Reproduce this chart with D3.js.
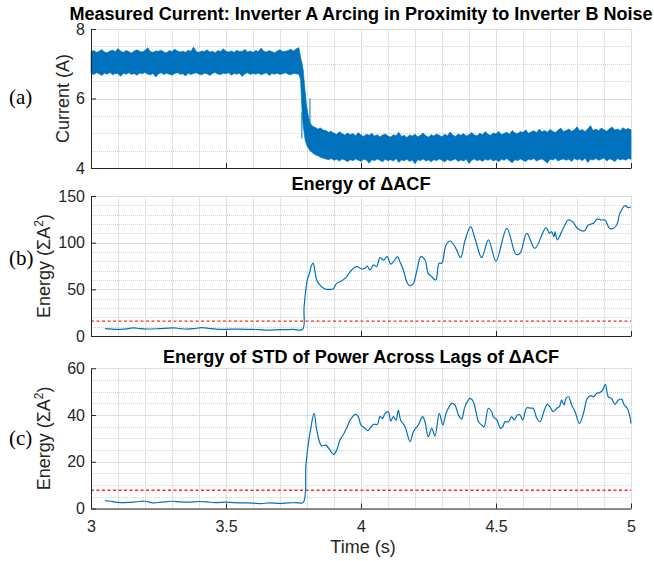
<!DOCTYPE html>
<html>
<head>
<meta charset="utf-8">
<script src="https://cdn.jsdelivr.net/npm/d3@7"></script>
<style>
  body { margin: 0; background: #fff; }
  svg { display: block; font-family: "Liberation Sans", Arial, sans-serif; }
</style>
</head>
<body>
<svg id="fig" width="654" height="561"></svg>
<script>
// ---- Shared time axis ----
const xTicks = [3, 3.5, 4, 4.5, 5];
const xTickLabels = ["3", "3.5", "4", "4.5", "5"];

// ---- (a) Measured current: upper / lower extent of the raw signal ----
const currentTime = [
  3.00,3.01,3.02,3.03,3.04,3.05,3.06,3.07,3.08,3.09,
  3.10,3.11,3.12,3.13,3.14,3.15,3.16,3.17,3.18,3.19,
  3.20,3.21,3.22,3.23,3.24,3.25,3.26,3.27,3.28,3.29,
  3.30,3.31,3.32,3.33,3.34,3.35,3.36,3.37,3.38,3.39,
  3.40,3.41,3.42,3.43,3.44,3.45,3.46,3.47,3.48,3.49,
  3.50,3.51,3.52,3.53,3.54,3.55,3.56,3.57,3.58,3.59,
  3.60,3.61,3.62,3.63,3.64,3.65,3.66,3.67,3.68,3.69,
  3.70,3.71,3.72,3.73,3.74,3.75,3.76,3.77,
  3.776,3.782,3.786,3.793,3.799,3.805,3.811,3.817,3.823,3.83,3.84,3.85,3.86,
  3.87,3.88,3.89,3.90,3.91,3.92,3.93,3.94,3.95,3.96,
  3.97,3.98,3.99,4.00,4.01,4.02,4.03,4.04,4.05,4.06,
  4.07,4.08,4.09,4.10,4.11,4.12,4.13,4.14,4.15,4.16,
  4.17,4.18,4.19,4.20,4.21,4.22,4.23,4.24,4.25,4.26,
  4.27,4.28,4.29,4.30,4.31,4.32,4.33,4.34,4.35,4.36,
  4.37,4.38,4.39,4.40,4.41,4.42,4.43,4.44,4.45,4.46,
  4.47,4.48,4.49,4.50,4.51,4.52,4.53,4.54,4.55,4.56,
  4.57,4.58,4.59,4.60,4.61,4.62,4.63,4.64,4.65,4.66,
  4.67,4.68,4.69,4.70,4.71,4.72,4.73,4.74,4.75,4.76,
  4.77,4.78,4.79,4.80,4.81,4.82,4.83,4.84,4.85,4.86,
  4.87,4.88,4.89,4.90,4.91,4.92,4.93,4.94,4.95,4.96,
  4.97,4.98,4.99,5.00
];
const currentHigh = [
  7.35,7.38,7.33,7.36,7.41,7.34,7.32,7.37,7.39,7.35,
  7.44,7.36,7.33,7.38,7.35,7.31,7.37,7.40,7.36,7.34,
  7.38,7.46,7.35,7.33,7.37,7.36,7.39,7.34,7.32,7.38,
  7.35,7.42,7.37,7.34,7.36,7.33,7.39,7.36,7.48,7.35,
  7.33,7.37,7.35,7.40,7.34,7.36,7.32,7.38,7.35,7.43,
  7.36,7.34,7.37,7.33,7.39,7.35,7.36,7.41,7.34,7.37,
  7.33,7.38,7.35,7.45,7.36,7.34,7.38,7.35,7.32,7.37,
  7.40,7.35,7.36,7.38,7.42,7.37,7.43,7.46,
  7.20,7.00,6.82,6.20,5.76,5.50,5.30,5.24,5.19,5.17,5.12,5.15,5.09,
  5.08,5.03,5.06,5.00,4.97,5.04,4.99,4.95,5.01,4.96,
  4.99,4.93,5.02,4.95,4.91,4.97,4.94,5.00,4.92,4.96,
  4.90,4.95,4.98,4.92,4.89,4.96,4.93,5.03,4.91,4.94,
  4.88,4.95,4.92,4.97,4.90,4.94,5.01,4.93,4.89,4.96,
  4.92,4.98,4.94,4.90,4.97,4.93,5.04,4.95,4.91,4.98,
  4.94,4.99,4.92,4.96,5.02,4.95,4.93,5.00,4.96,5.05,
  4.97,4.94,5.01,4.98,5.06,4.96,5.00,5.03,4.97,5.08,
  5.01,4.99,5.05,5.02,5.10,5.00,5.04,5.07,5.02,5.12,
  5.04,5.08,5.03,5.11,5.06,5.02,5.09,5.15,5.05,5.08,
  5.12,5.06,5.10,5.19,5.07,5.11,5.05,5.13,5.22,5.08,
  5.12,5.07,5.15,5.10,5.06,5.13,5.18,5.09,5.12,5.08,
  5.16,5.11,5.14,5.10
];
const currentLow = [
  6.72,6.69,6.74,6.71,6.66,6.73,6.70,6.75,6.68,6.72,
  6.71,6.64,6.73,6.70,6.74,6.69,6.72,6.67,6.73,6.71,
  6.75,6.70,6.68,6.72,6.62,6.71,6.74,6.69,6.73,6.70,
  6.67,6.72,6.74,6.70,6.71,6.65,6.73,6.69,6.72,6.74,
  6.70,6.68,6.73,6.71,6.66,6.72,6.75,6.70,6.69,6.73,
  6.71,6.74,6.67,6.72,6.70,6.73,6.63,6.71,6.74,6.69,
  6.72,6.70,6.73,6.68,6.71,6.74,6.66,6.72,6.70,6.73,
  6.69,6.71,6.74,6.70,6.68,6.72,6.71,6.70,
  6.55,5.57,5.20,4.81,4.65,4.57,4.50,4.46,4.42,4.38,4.35,4.31,4.28,
  4.26,4.24,4.27,4.22,4.25,4.20,4.26,4.23,4.18,4.24,
  4.21,4.26,4.22,4.19,4.25,4.23,4.14,4.24,4.21,4.26,
  4.22,4.18,4.25,4.21,4.24,4.20,4.27,4.16,4.23,4.21,
  4.25,4.19,4.23,4.12,4.24,4.21,4.26,4.20,4.23,4.18,
  4.24,4.21,4.26,4.22,4.17,4.25,4.20,4.23,4.26,4.19,
  4.23,4.20,4.25,4.13,4.22,4.26,4.21,4.24,4.19,4.25,
  4.22,4.26,4.20,4.24,4.18,4.25,4.22,4.27,4.21,4.15,
  4.24,4.21,4.26,4.22,4.19,4.25,4.23,4.27,4.20,4.24,
  4.26,4.21,4.14,4.25,4.23,4.27,4.20,4.24,4.26,4.22,
  4.25,4.19,4.27,4.23,4.26,4.21,4.28,4.16,4.25,4.23,
  4.27,4.22,4.25,4.29,4.20,4.26,4.24,4.18,4.27,4.23,
  4.26,4.22,4.27,4.25
];
// isolated transients around the arc onset
const spikeTime = [3.781, 3.811];
const spikeHigh = [5.60, 6.00];
const spikeLow  = [4.85, 5.30];
const currentTicks = [4, 6, 8];

// ---- (b) Energy of delta-ACF ----
const energyTime = [
  3.052,3.07,3.095,3.12,3.157,3.18,3.206,3.25,3.305,3.33,3.354,3.38,3.41,3.44,3.465,3.50,3.55,3.60,3.626,3.65,
  3.70,3.749,3.784,3.789,3.795,3.801,3.81,3.816,3.823,3.829,3.836,3.848,3.867,3.891,3.897,3.910,3.928,3.947,3.965,3.984,
  4.002,4.015,4.023,4.033,4.046,4.058,4.070,4.083,4.097,4.110,4.120,4.135,4.144,4.157,4.169,4.179,4.194,4.206,4.222,4.237,
  4.249,4.262,4.277,4.289,4.299,4.315,4.330,4.348,4.369,4.385,4.406,4.422,4.447,4.472,4.500,4.540,4.574,4.589,4.614,4.644,
  4.685,4.698,4.706,4.715,4.719,4.727,4.749,4.768,4.786,4.801,4.826,4.842,4.861,4.875,4.891,4.904,4.920,4.935,4.947,4.959,
  4.978,4.990,4.999
];
const energyValue = [
  8.0,7.7,7.1,7.3,8.6,8.0,7.5,7.8,8.7,8.0,7.4,7.8,8.9,8.0,7.4,7.2,7.4,7.0,6.9,6.3,
  6.8,7.0,7.2,30,48,60,68,75,78,70,60,54.6,50.4,50.0,50.4,56.4,58.9,63.6,70.7,74.3,
  71.8,72.5,75,70.7,76.1,74.3,84,81.4,85,77.1,79.6,85,79.6,70.7,58.2,53.9,56.4,68.9,85,81.4,
  67.1,63.6,60,77.9,77.9,97.5,101.8,95.7,84,102,117.1,104.7,84,102.9,80.4,115.4,87.5,88.6,110.0,93.9,
  116.1,110,111.8,106.4,111.8,102.9,115.4,124.3,121.8,115.4,112.5,118.9,120.7,125.4,124.3,124.3,115.4,115.4,118.9,131.4,
  139.6,137.5,138.6
];
const energyThreshold = 16;
const energyTicks = [0, 50, 100, 150];

// ---- (c) Energy of STD of power across lags of delta-ACF ----
const stdTime = [
  3.052,3.07,3.09,3.11,3.14,3.17,3.20,3.23,3.26,3.30,3.33,3.36,3.40,3.43,3.46,3.50,3.53,3.57,3.60,3.63,
  3.66,3.70,3.73,3.76,3.786,3.796,3.805,3.814,3.826,3.836,3.846,3.854,3.870,3.885,3.898,3.910,3.922,3.937,3.949,3.962,
  3.980,3.990,4.000,4.015,4.024,4.033,4.046,4.061,4.070,4.080,4.089,4.101,4.110,4.120,4.130,4.138,4.147,4.163,4.182,4.194,
  4.212,4.228,4.237,4.249,4.262,4.274,4.290,4.303,4.315,4.336,4.348,4.361,4.373,4.385,4.404,4.416,4.426,4.435,4.447,4.456,
  4.472,4.484,4.490,4.503,4.517,4.525,4.533,4.546,4.558,4.567,4.579,4.589,4.599,4.614,4.628,4.638,4.651,4.663,4.675,4.690,
  4.703,4.712,4.725,4.735,4.743,4.752,4.759,4.769,4.780,4.793,4.809,4.824,4.838,4.851,4.861,4.873,4.885,4.895,4.905,4.916,
  4.928,4.941,4.953,4.965,4.975,4.986,4.996,5.000
];
const stdValue = [
  3.3,3.2,2.7,2.5,2.6,2.9,3.1,2.4,2.7,3.1,2.8,2.7,3.0,2.8,2.5,2.7,2.5,2.4,2.3,2.1,
  2.4,2.2,2.4,2.5,2.6,18.6,27.9,34.3,40.7,33.6,28.6,26.8,27.1,25.0,23.1,25.0,29.3,32.1,35.0,38.3,
  40.3,39.3,35.7,34.3,33.3,34.3,36.0,36.0,39.3,38.6,40.7,41.4,37.4,39.3,37.8,42.1,37.8,35.0,28.6,32.9,
  35.7,39.3,37.1,30.7,34.3,31.1,40.7,35.7,40.7,45.0,44.3,40.0,38.3,43.6,47.1,45.7,41.4,37.1,35.7,35.0,
  42.9,41.4,39.3,37.9,34.3,35.0,37.1,37.1,39.3,37.9,40.0,40.0,37.9,43.1,42.9,42.9,38.6,37.1,40.7,44.6,
  42.9,41.4,42.9,43.6,46.4,44.3,47.1,47.8,44.3,41.4,36.4,40.7,47.1,48.3,47.8,49.3,49.7,50.7,53.1,47.8,
  47.1,44.6,46.4,46.8,44.3,42.9,39.3,36.4
];
const stdThreshold = 7.8;
const stdTicks = [0, 20, 40, 60];

// ---- Layout ----
const svg = d3.select("#fig");
const xLeft = 91, xRight = 631;
const x = d3.scaleLinear().domain([3, 5]).range([xLeft, xRight]);
const ink = "#262626";
const lineBlue = "#0072BD";

const panels = [
  { tag: "(a)", title: "Measured Current: Inverter A Arcing in Proximity to Inverter B Noise",
    titleW: 583, titleY: 19.5, top: 29, bottom: 168, domain: [4, 8], ticks: currentTicks, minorCount: 8,
    ylab: "Current (A)", ylabX: 69, tagY: 104, xLabels: false },
  { tag: "(b)", title: "Energy of \u0394ACF",
    titleW: 139, titleY: 189.5, top: 196, bottom: 336, domain: [0, 150], ticks: energyTicks, minorCount: 15,
    ylab: "energy", ylabX: 50, tagY: 265, xLabels: false },
  { tag: "(c)", title: "Energy of STD of Power Across Lags of \u0394ACF",
    titleW: 396, titleY: 362.5, top: 368.3, bottom: 508.5, domain: [0, 60], ticks: stdTicks, minorCount: 12,
    ylab: "energy", ylabX: 50, tagY: 445, xLabels: true }
];

panels.forEach(p => { p.y = d3.scaleLinear().domain(p.domain).range([p.bottom, p.top]); });

function drawGrid(g, p) {
  const xMinor = x.ticks(20).filter(v => !xTicks.includes(v));
  const yMinor = p.y.ticks(p.minorCount).filter(v => !p.ticks.includes(v));
  const grid = g.append("g").attr("shape-rendering", "crispEdges");
  grid.selectAll("line.xm").data(xMinor).join("line")
    .attr("x1", d => Math.round(x(d)) + 0.5).attr("x2", d => Math.round(x(d)) + 0.5)
    .attr("y1", p.top).attr("y2", p.bottom)
    .attr("stroke", "#e3e3e3");
  grid.selectAll("line.ym").data(yMinor).join("line")
    .attr("y1", d => Math.round(p.y(d)) + 0.5).attr("y2", d => Math.round(p.y(d)) + 0.5)
    .attr("x1", xLeft).attr("x2", xRight)
    .attr("stroke", "#d2d2d2").attr("stroke-dasharray", "1,1");
  grid.selectAll("line.xM").data(xTicks).join("line")
    .attr("x1", d => Math.round(x(d)) + 0.5).attr("x2", d => Math.round(x(d)) + 0.5)
    .attr("y1", p.top).attr("y2", p.bottom)
    .attr("stroke", "#dedede");
  grid.selectAll("line.yM").data(p.ticks).join("line")
    .attr("y1", d => Math.round(p.y(d)) + 0.5).attr("y2", d => Math.round(p.y(d)) + 0.5)
    .attr("x1", xLeft).attr("x2", xRight)
    .attr("stroke", "#dedede");
}

function drawAxes(g, p) {
  const ya = g.append("g").attr("transform", `translate(${xLeft},0)`)
    .call(d3.axisLeft(p.y).tickValues(p.ticks).tickFormat(d3.format("d"))
      .tickSizeInner(-5).tickSizeOuter(0).tickPadding(6));
  const xa = g.append("g").attr("transform", `translate(0,${p.bottom})`)
    .call(d3.axisBottom(x).tickValues(xTicks).tickSizeInner(-5).tickSizeOuter(0).tickPadding(12.5)
      .tickFormat((d, i) => p.xLabels ? xTickLabels[i] : ""));
  [ya, xa].forEach(a => {
    a.select(".domain").attr("stroke", ink);
    a.selectAll(".tick line").attr("stroke", ink);
    a.selectAll("text").attr("fill", ink).style("font-size", "16px")
      .style("font-family", "'Liberation Sans', Arial, sans-serif");
  });
}

panels.forEach((p, idx) => {
  const g = svg.append("g");
  drawGrid(g, p);

  // panel title
  g.append("text").attr("x", 361).attr("y", p.titleY).attr("text-anchor", "middle")
    .attr("font-weight", "bold").attr("font-size", 18).attr("fill", "#000")
    .attr("textLength", p.titleW).attr("lengthAdjust", "spacingAndGlyphs")
    .text(p.title);

  // y-axis label
  const yl = g.append("text")
    .attr("transform", `translate(${p.ylabX},${(p.top + p.bottom) / 2}) rotate(-90)`)
    .attr("text-anchor", "middle").attr("font-size", 18).attr("fill", ink);
  if (p.ylab === "energy") {
    yl.append("tspan").text("Energy (\u03A3A");
    yl.append("tspan").attr("dy", -7).attr("font-size", 12).text("2");
    yl.append("tspan").attr("dy", 7).text(")");
  } else {
    yl.text(p.ylab);
  }

  // subplot tag
  g.append("text").attr("x", 9).attr("y", p.tagY)
    .attr("font-family", "'Liberation Serif', 'Times New Roman', serif")
    .attr("font-size", 21).attr("fill", "#000").text(p.tag);

  const plot = g.append("g");
  if (idx === 0) {
    const band = currentTime.map((t, i) => ({ t, hi: currentHigh[i], lo: currentLow[i] }));
    plot.append("path").datum(band)
      .attr("d", d3.area().x(d => x(d.t)).y0(d => p.y(d.lo)).y1(d => p.y(d.hi)))
      .attr("fill", lineBlue).attr("stroke", lineBlue).attr("stroke-width", 0.6);
    plot.selectAll("line.spike").data(spikeTime).join("line")
      .attr("x1", d => x(d)).attr("x2", d => x(d))
      .attr("y1", (d, i) => p.y(spikeHigh[i])).attr("y2", (d, i) => p.y(spikeLow[i]))
      .attr("stroke", lineBlue).attr("stroke-width", 1);
  } else {
    const ts = idx === 1 ? energyTime : stdTime;
    const vs = idx === 1 ? energyValue : stdValue;
    const thr = idx === 1 ? energyThreshold : stdThreshold;
    plot.append("line")
      .attr("x1", x(3)).attr("x2", x(5)).attr("y1", p.y(thr)).attr("y2", p.y(thr))
      .attr("stroke", "#ff2a2a").attr("stroke-width", 1.3).attr("stroke-dasharray", "3,2.5");
    const pts = ts.map((t, i) => [t, vs[i]]);
    plot.append("path").datum(pts)
      .attr("d", d3.line().x(d => x(d[0])).y(d => p.y(d[1])).curve(d3.curveCatmullRom.alpha(0.5)))
      .attr("fill", "none").attr("stroke", lineBlue).attr("stroke-width", 1.2);
  }

  drawAxes(g, p);
});

// shared x-axis label
svg.append("text").attr("x", 363).attr("y", 553).attr("text-anchor", "middle")
  .attr("font-size", 18).attr("fill", ink).text("Time (s)");
</script>
</body>
</html>
